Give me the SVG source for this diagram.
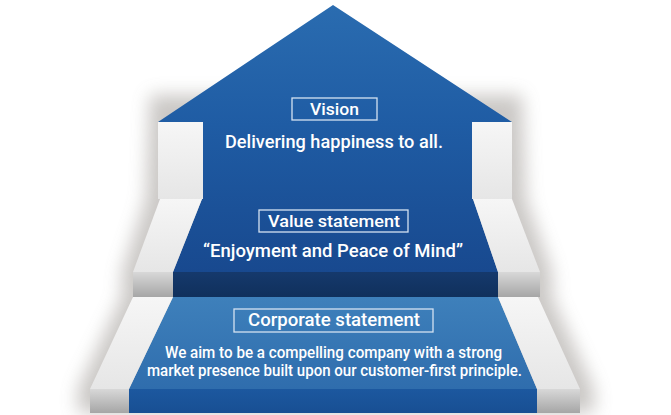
<svg xmlns="http://www.w3.org/2000/svg" width="671" height="415" viewBox="0 0 671 415">
<style>
text{font-family:Roboto,"Open Sans","Liberation Sans",sans-serif;font-weight:500;fill:#ffffff;text-anchor:middle}
.box{fill:none;stroke:#d4e2f2;stroke-width:1.3}
.wtop{fill:url(#wtop)}
.wfront{fill:url(#wfront)}
</style>
<defs>
<linearGradient id="blueA" x1="0" y1="5" x2="0" y2="272" gradientUnits="userSpaceOnUse">
<stop offset="0" stop-color="#2a6cb0"/>
<stop offset="0.45" stop-color="#1f5ca4"/>
<stop offset="1" stop-color="#18498f"/>
</linearGradient>
<linearGradient id="dark" x1="0" y1="0" x2="0" y2="1">
<stop offset="0" stop-color="#15396c"/>
<stop offset="1" stop-color="#10305c"/>
</linearGradient>
<linearGradient id="blueC" x1="0" y1="297" x2="0" y2="389" gradientUnits="userSpaceOnUse">
<stop offset="0" stop-color="#3e80bb"/>
<stop offset="1" stop-color="#2f6dad"/>
</linearGradient>
<linearGradient id="frontC" x1="0" y1="0" x2="0" y2="1">
<stop offset="0" stop-color="#1c589f"/>
<stop offset="1" stop-color="#184f93"/>
</linearGradient>
<linearGradient id="wtop" x1="0" y1="0" x2="0" y2="1">
<stop offset="0" stop-color="#f6f6f6"/>
<stop offset="1" stop-color="#e6e6e6"/>
</linearGradient>
<linearGradient id="wfront" x1="0" y1="0" x2="0" y2="1">
<stop offset="0" stop-color="#d8d8d8"/>
<stop offset="1" stop-color="#a6a6a6"/>
</linearGradient>
<filter id="blur" x="-20%" y="-20%" width="140%" height="140%">
<feGaussianBlur stdDeviation="9"/>
</filter>
</defs>
<rect width="671" height="415" fill="#ffffff"/>
<g id="shadow" opacity="0.4" filter="url(#blur)">
<polygon points="150,95 522,95 526,200 552,272 552,298 594,389 594,413 78,413 78,389 122,297 122,272 146,199" fill="#7d7670"/>
</g>
<g id="vision">
<polygon points="333,5 512,122 472,122 472,199 203,199 203,122 158,122" fill="url(#blueA)"/>
<rect x="158" y="122" width="45" height="77" class="wtop"/>
<rect x="472" y="122" width="40" height="77" class="wtop"/>
<rect x="292" y="98" width="85" height="22" class="box"/>
<text x="334.5" y="115" font-size="17" textLength="49" lengthAdjust="spacingAndGlyphs">Vision</text>
<text x="334" y="148" font-size="19" textLength="218" lengthAdjust="spacingAndGlyphs">Delivering happiness to all.</text>
</g>
<g id="value">
<polygon points="202,199 473,199 498,272 173,272" fill="url(#blueA)"/>
<rect x="173" y="272" width="325" height="25" fill="url(#dark)"/>
<polygon points="160,199 202,199 173,272 133,272" class="wtop"/>
<rect x="133" y="272" width="40" height="25" class="wfront"/>
<polygon points="473,199 512,199 540,272 498,272" class="wtop"/>
<rect x="498" y="272" width="42" height="25" class="wfront"/>
<rect x="259" y="210" width="149" height="22" class="box"/>
<text x="334" y="227" font-size="17" textLength="132" lengthAdjust="spacingAndGlyphs">Value statement</text>
<text x="333" y="257" font-size="19" textLength="260" lengthAdjust="spacingAndGlyphs">“Enjoyment and Peace of Mind”</text>
</g>
<g id="corporate">
<polygon points="173,297 498,297 537,389 129,389" fill="url(#blueC)"/>
<rect x="129" y="389" width="408" height="24" fill="url(#frontC)"/>
<polygon points="133,297 173,297 129,389 90,389" class="wtop"/>
<rect x="90" y="389" width="39" height="24" class="wfront"/>
<polygon points="498,297 538,297 580,389 537,389" class="wtop"/>
<rect x="537" y="389" width="43" height="24" class="wfront"/>
<rect x="234" y="309" width="199" height="23" class="box"/>
<text x="334" y="326" font-size="18" textLength="172" lengthAdjust="spacingAndGlyphs">Corporate statement</text>
<text x="333.5" y="357.5" font-size="16" textLength="337" lengthAdjust="spacingAndGlyphs">We aim to be a compelling company with a strong</text>
<text x="334.5" y="375.5" font-size="16" textLength="375" lengthAdjust="spacingAndGlyphs">market presence built upon our customer-first principle.</text>
</g>
</svg>
